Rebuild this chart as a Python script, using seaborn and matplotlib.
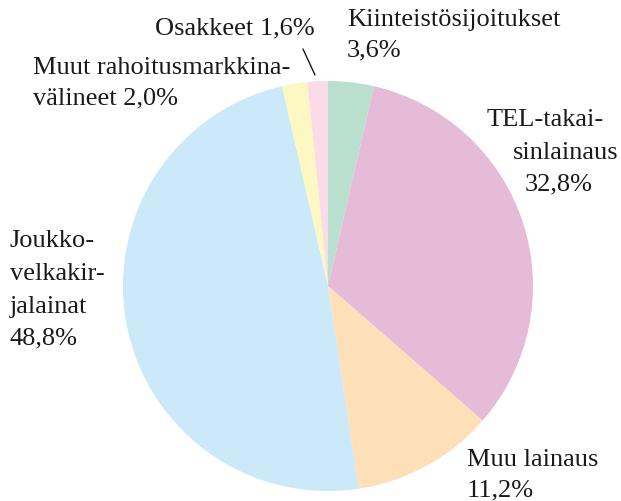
import matplotlib
matplotlib.use("Agg")
import matplotlib.pyplot as plt
import seaborn as sns

sns.set_theme(style="white")
plt.rcParams["font.family"] = ["Liberation Serif", "DejaVu Serif"]

# %% data
categories = [
    "Kiinteistösijoitukset",
    "TEL-takaisinlainaus",
    "Muu lainaus",
    "Joukkovelkakirjalainat",
    "Muut rahoitusmarkkinavälineet",
    "Osakkeet",
]
shares = [3.6, 32.8, 11.2, 48.8, 2.0, 1.6]
colors = ["#b9e0cf", "#e6bbd8", "#fde0b7", "#cbe9f8", "#fdf7c1", "#fbdbe8"]

# label lines as printed (hyphenated)
label_lines = [
    ["Kiinteistösijoitukset", "3,6%"],
    ["TEL-takai-", "sinlainaus", "32,8%"],
    ["Muu lainaus", "11,2%"],
    ["Joukko-", "velkakir-", "jalainat", "48,8%"],
    ["Muut rahoitusmarkkina-", "välineet 2,0%"],
    ["Osakkeet 1,6%"],
]

# %% layout (pixels)
W, H = 621, 502
cx, cy, r = 328, 287, 205
label_xy = [
    [(347, 20), (347, 50)],
    [(487, 120), (513, 153), (525, 184)],
    [(467, 460), (467, 490)],
    [(10, 241), (10, 274), (10, 307), (10, 338)],
    [(33, 68), (33, 98)],
    [(155, 28)],
]

fig = plt.figure(figsize=(W / 100, H / 100), dpi=100)
ax = fig.add_axes([(cx - r) / W, (H - cy - r) / H, 2 * r / W, 2 * r / H])
ax.pie(shares, colors=colors, startangle=90, counterclock=False,
       radius=1, wedgeprops=dict(linewidth=0))
ax.set_xlim(-1, 1)
ax.set_ylim(-1, 1)
ax.set_aspect("equal")
ax.axis("off")

for lines, xys in zip(label_lines, label_xy):
    for txt, (x, y) in zip(lines, xys):
        fig.text(x / W, 1 - y / H, txt, ha="left", va="center",
                 fontsize=19, color="#1a1a1a")

# leader line for Osakkeet
fig.add_artist(plt.Line2D([303 / W, 315 / W], [1 - 50 / H, 1 - 76 / H],
                          color="#1a1a1a", linewidth=1.0))

fig.savefig("out.png", dpi=100)
